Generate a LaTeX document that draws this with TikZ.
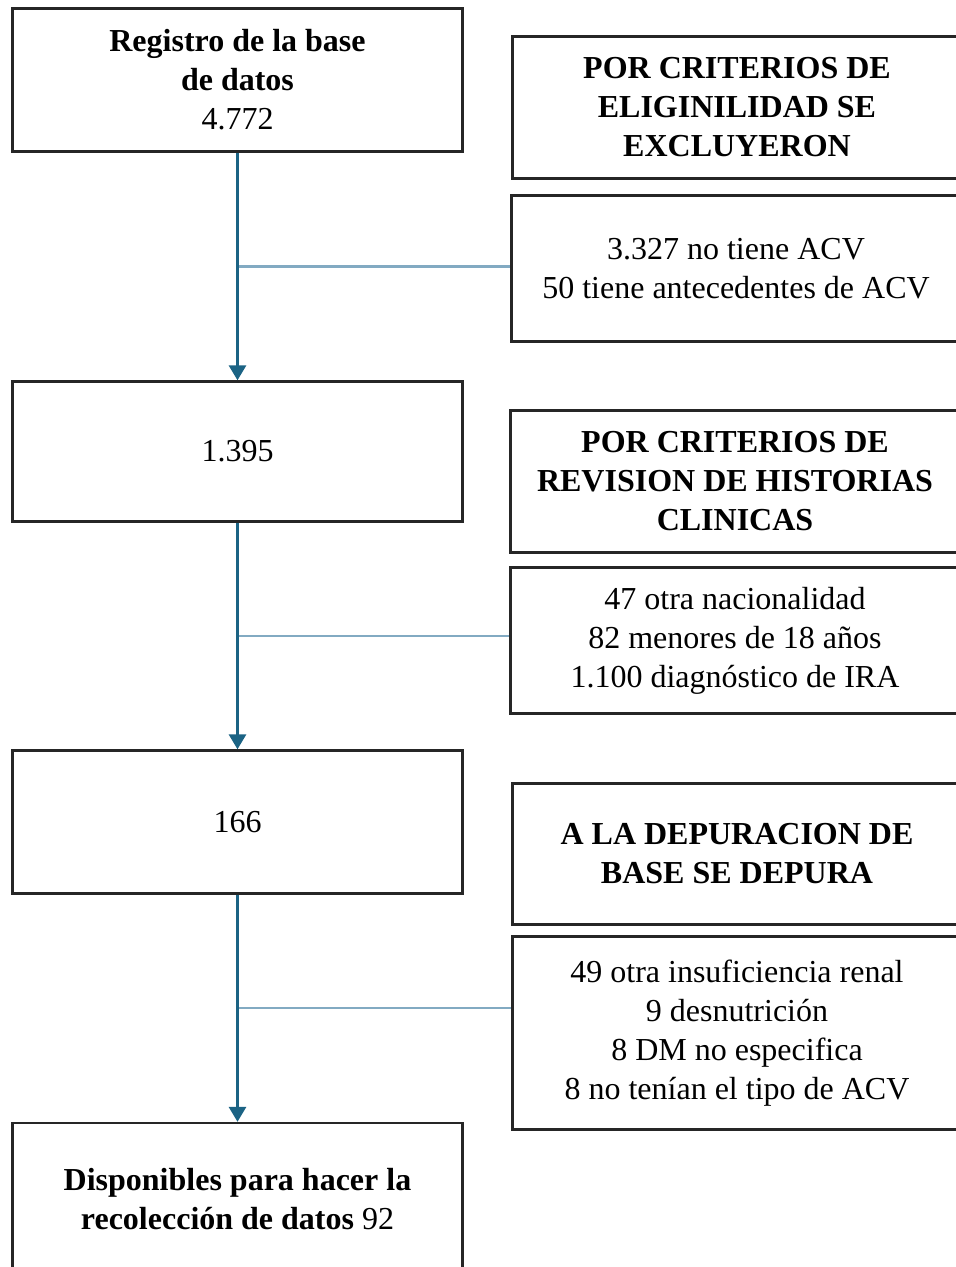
\documentclass[tikz,border=0pt]{standalone}
\usepackage{fontspec}
\setmainfont{Liberation Serif}
\usetikzlibrary{arrows.meta,calc}
\definecolor{flecha}{RGB}{27,99,132}
\definecolor{rama}{RGB}{130,170,194}
\begin{document}
\begin{tikzpicture}[
        x=1pt, y=-1pt,
        caja/.style={shape=rectangle, draw=black!85, line width=2.4pt, align=center, inner sep=0pt, font=\fontsize{32}{39}\selectfont},
        izq/.style={caja, minimum width=450pt},
        der/.style={caja, minimum width=449pt},
        flujo/.style={draw=flecha, line width=3pt, -{Triangle[width=17pt,length=15pt]}},
        rama/.style={draw=rama, line width=2.4pt}
    ]
        \useasboundingbox (0,0) rectangle (956,1267);

        \node[izq, minimum height=143pt] (registro) at (237.5,80) {\textbf{Registro de la base}\\\textbf{de datos}\\4.772};
        \node[izq, minimum height=140pt] (n1395) at (237.5,451.5) {1.395};
        \node[izq, minimum height=143pt] (n166) at (237.5,822) {166};
        \node[izq, minimum height=152pt] (disp) at (237.5,1199) {\textbf{Disponibles para hacer la}\\\textbf{recolección de datos} 92};

        \node[der, minimum height=142pt] (elig) at (737,107.5) {\textbf{POR CRITERIOS DE}\\\textbf{ELIGINILIDAD SE}\\\textbf{EXCLUYERON}};
        \node[der, minimum height=146pt] (excl1) at (736,268.5) {3.327 no tiene ACV\\50 tiene antecedentes de ACV};
        \node[der, minimum height=142pt] (revi) at (735,481.5) {\textbf{POR CRITERIOS DE}\\\textbf{REVISION DE HISTORIAS}\\\textbf{CLINICAS}};
        \node[der, minimum height=146pt] (excl2) at (735,640.5) {47 otra nacionalidad\\82 menores de 18 años\\1.100 diagnóstico de IRA};
        \node[der, minimum height=141pt] (depu) at (737,854) {\textbf{A LA DEPURACION DE}\\\textbf{BASE SE DEPURA}};
        \node[der, minimum height=193pt] (excl3) at (737,1033) {49 otra insuficiencia renal\\9 desnutrición\\8 DM no especifica\\8 no tenían el tipo de ACV};

        \coordinate (b1) at ($(registro.south)!0.5!(n1395.north)$);
        \coordinate (b2) at ($(n1395.south)!0.5!(n166.north)$);
        \coordinate (b3) at ($(n166.south)!0.5!(disp.north)$);

        \draw[rama] (b1) -- (b1 -| excl1.west);
        \draw[rama] (b2) -- (b2 -| excl2.west);
        \draw[rama] (b3) -- (b3 -| excl3.west);

        \draw[flujo] (registro.south) -- (n1395.north);
        \draw[flujo] (n1395.south) -- (n166.north);
        \draw[flujo] (n166.south) -- (disp.north);

    \end{tikzpicture}
\end{document}
